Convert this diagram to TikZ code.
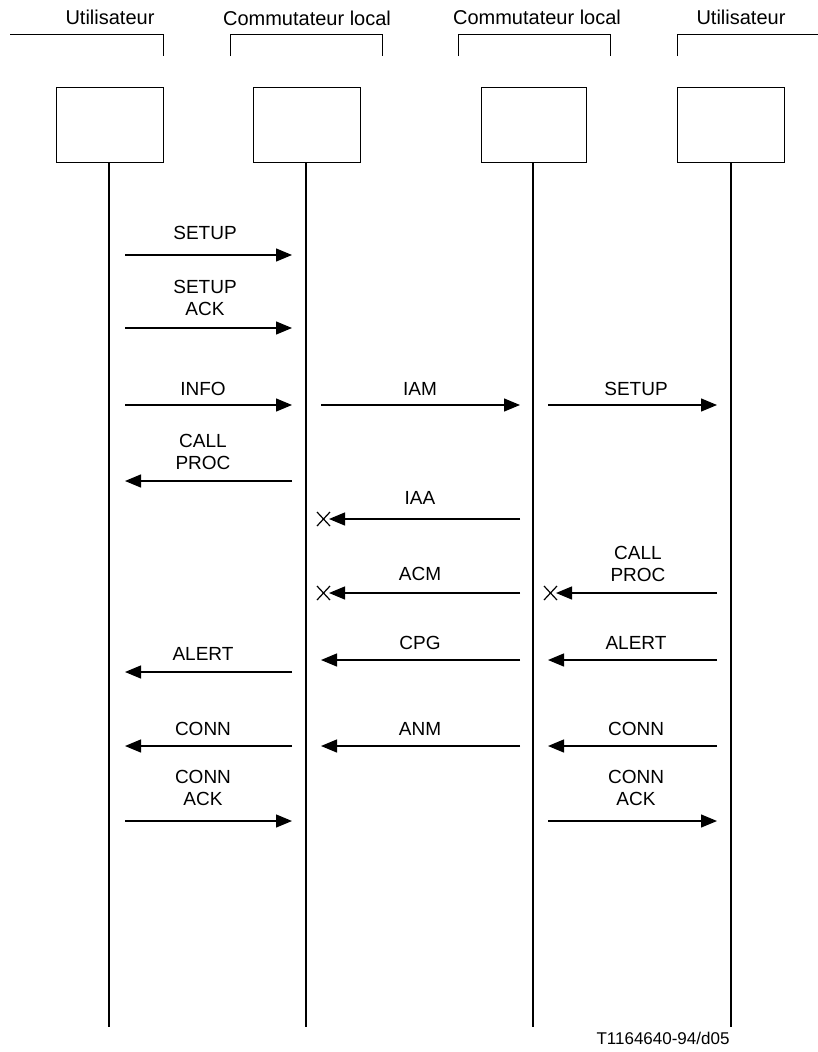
\documentclass[tikz,border=0pt]{standalone}
\usepackage{fontspec}
\setmainfont{Liberation Sans}
\usetikzlibrary{arrows.meta}
\begin{document}
\begin{tikzpicture}[x=1pt,y=-1pt,line width=1.3pt,
  font=\fontsize{19}{22}\selectfont,
  msg/.style={-{Triangle[length=16pt,width=13pt]}},
  lab/.style={align=center,inner sep=0pt,anchor=center},
  hlab/.style={lab,font=\fontsize{20}{23}\selectfont},
  ent/.style={draw,line width=1pt,minimum width=107pt,minimum height=75pt,inner sep=0pt},
  hdr/.style={line width=1pt},
  xmark/.style={line width=1.2pt}]
\useasboundingbox (0,0) rectangle (818,1052);
% headers
\node[hlab] (h1) at (110,17) {Utilisateur};
\node[hlab] (h2) at (307,18) {Commutateur local};
\node[hlab] (h3) at (537,17) {Commutateur local};
\node[hlab] (h4) at (741,17) {Utilisateur};
\draw[hdr] (10,34) coordinate (h1a) -- (163,34) -- (163,56) coordinate (h1b);
\draw[hdr] (230,56) coordinate (h2a) -- (230,34) -- (382,34) -- (382,56) coordinate (h2b);
\draw[hdr] (458,56) coordinate (h3a) -- (458,34) -- (610,34) -- (610,56) coordinate (h3b);
\draw[hdr] (677,56) coordinate (h4a) -- (677,34) -- (818,34) coordinate (h4b);
% entity boxes
\node[ent] (b1) at (109.5,124.5) {};
\node[ent] (b2) at (306.5,124.5) {};
\node[ent,minimum width=105pt] (b3) at (533.5,124.5) {};
\node[ent] (b4) at (730.5,124.5) {};
% lifelines
\coordinate (e1) at (109,1027);
\coordinate (e2) at (306,1027);
\coordinate (e3) at (533,1027);
\coordinate (e4) at (731,1027);
\draw (b1.south -| e1) -- (e1);
\draw (b2.south -| e2) -- (e2);
\draw (b3.south -| e3) -- (e3);
\draw (b4.south -| e4) -- (e4);
% messages
\draw[msg] (125,255) coordinate (m1a) -- (292,255) coordinate (m1b);
\node[lab] (t1) at (205,233) {SETUP};
\draw[msg] (125,328) coordinate (m2a) -- (292,328) coordinate (m2b);
\node[lab] (t2) at (205,298) {SETUP\\ACK};
\draw[msg] (125,405) coordinate (m3a) -- (292,405) coordinate (m3b);
\node[lab] (t3) at (203,389) {INFO};
\draw[msg] (321,405) coordinate (m4a) -- (520,405) coordinate (m4b);
\node[lab] (t4) at (420,389) {IAM};
\draw[msg] (548,405) coordinate (m5a) -- (717,405) coordinate (m5b);
\node[lab] (t5) at (636,389) {SETUP};
\draw[msg] (292,481) coordinate (m6a) -- (125,481) coordinate (m6b);
\node[lab] (t6) at (203,452) {CALL\\PROC};
\draw[msg] (520,519) coordinate (m7a) -- (329,519) coordinate (m7b);
\node[lab] (t7) at (420,498) {IAA};
\draw[xmark] (317,512) coordinate (x1a) -- (330,526) (317,526) -- (330,512) coordinate (x1b);
\draw[msg] (520,593) coordinate (m8a) -- (329,593) coordinate (m8b);
\node[lab] (t8) at (420,574) {ACM};
\draw[xmark] (317,586) coordinate (x2a) -- (330,600) (317,600) -- (330,586) coordinate (x2b);
\draw[msg] (717,593) coordinate (m9a) -- (556,593) coordinate (m9b);
\node[lab] (t9) at (638,564) {CALL\\PROC};
\draw[xmark] (544,586) coordinate (x3a) -- (557,600) (544,600) -- (557,586) coordinate (x3b);
\draw[msg] (292,672) coordinate (m10a) -- (125,672) coordinate (m10b);
\node[lab] (t10) at (203,654) {ALERT};
\draw[msg] (520,660) coordinate (m11a) -- (321,660) coordinate (m11b);
\node[lab] (t11) at (420,643) {CPG};
\draw[msg] (717,660) coordinate (m12a) -- (548,660) coordinate (m12b);
\node[lab] (t12) at (636,643) {ALERT};
\draw[msg] (292,746) coordinate (m13a) -- (125,746) coordinate (m13b);
\node[lab] (t13) at (203,729) {CONN};
\draw[msg] (520,746) coordinate (m14a) -- (321,746) coordinate (m14b);
\node[lab] (t14) at (420,729) {ANM};
\draw[msg] (717,746) coordinate (m15a) -- (548,746) coordinate (m15b);
\node[lab] (t15) at (636,729) {CONN};
\draw[msg] (125,821) coordinate (m16a) -- (292,821) coordinate (m16b);
\node[lab] (t16) at (203,788) {CONN\\ACK};
\draw[msg] (548,821) coordinate (m17a) -- (717,821) coordinate (m17b);
\node[lab] (t17) at (636,788) {CONN\\ACK};
% footer
\node[lab,font=\fontsize{17}{20}\selectfont] (ft) at (663,1038) {T1164640-94/d05};
\end{tikzpicture}
\end{document}
